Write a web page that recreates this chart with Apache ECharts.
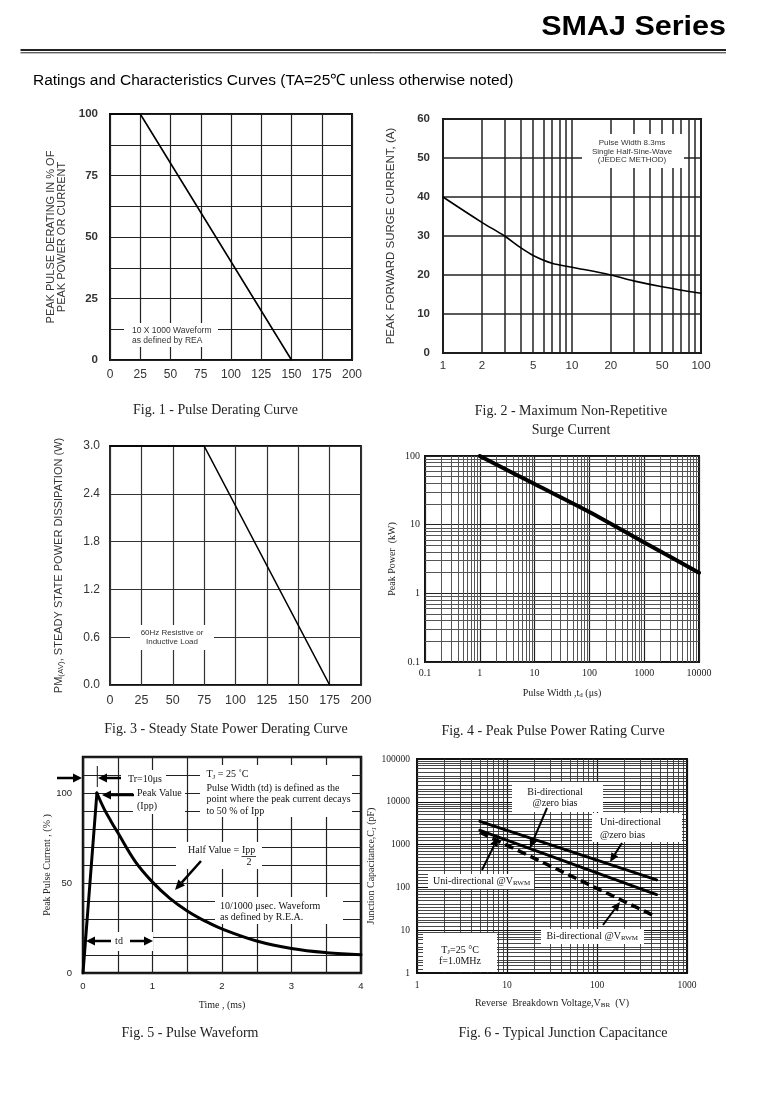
<!DOCTYPE html>
<html><head><meta charset="utf-8">
<script src="https://cdn.jsdelivr.net/npm/echarts@6/dist/echarts.min.js"></script>
<style>html,body{margin:0;padding:0;background:#fff}#c{width:780px;height:1107px}</style>
</head><body><div id="c"></div>
<script>
// ---------- data ----------
// Fig. 1 - Pulse Derating Curve
const fig1Temp = [0, 25, 150];
const fig1Derating = [100, 100, 0];
// Fig. 2 - Maximum Non-Repetitive Surge Current
const fig2Cycles = [1, 2, 3, 4, 5, 7, 10, 20, 30, 50, 100];
const fig2Current = [40, 33.5, 30, 27, 25, 23, 22, 20, 18.5, 17, 15.3];
const fig2XLabels = [1, 2, 5, 10, 20, 50, 100];
// Fig. 3 - Steady State Power Derating Curve
const fig3Temp = [0, 75, 175];
const fig3Power = [3.0, 3.0, 0];
// Fig. 4 - Peak Pulse Power Rating Curve
const fig4Width = [1, 10, 100, 1000, 10000];
const fig4Power = [100, 39, 15.3, 5.5, 2];
// Fig. 5 - Pulse Waveform
const fig5Time = [0, 0.2, 0.3, 0.4, 0.5, 0.75, 1, 1.25, 1.5, 1.75, 2, 2.5, 3, 3.5, 4];
const fig5Current = [0, 100, 91.5, 84.5, 78, 62, 50.5, 41.5, 34.5, 29, 24.5, 17.8, 13.6, 11.3, 10.2];
// Fig. 6 - Typical Junction Capacitance
const fig6VbrUniZero = [5, 460];
const fig6CapUniZero = [3500, 150];
const fig6VbrBiZero = [5, 460];
const fig6CapBiZero = [2150, 68];
const fig6VbrBiVrwm = [5, 425];
const fig6CapBiVrwm = [1950, 22];

// ---------- helpers ----------
const SANS = '"Liberation Sans", Arial, Helvetica, sans-serif';
const SERIF = '"Liberation Serif", "Times New Roman", Times, serif';
function pairs(xs, ys) { return xs.map((x, i) => [x, ys[i]]); }
function fmt(v) { return String(+Number(v).toPrecision(6)); }
function logMinors(from, to, mults) {
  const out = [];
  for (let d = from; d < to * 0.999; d = +(d * 10).toPrecision(6)) {
    mults.forEach(m => { const v = +(d * m).toPrecision(6); if (v < to) out.push(v); });
  }
  return out;
}
function gridSeries(idx, xs, ys, color, width) {
  return {
    type: 'line', xAxisIndex: idx, yAxisIndex: idx, data: [], silent: true, z: 1, animation: false,
    markLine: {
      silent: true, z: 1, zlevel: 0, symbol: ['none', 'none'], animation: false, label: { show: false },
      emphasis: { disabled: true },
      lineStyle: { color: color, width: width, type: 'solid' },
      data: xs.map(v => ({ xAxis: v })).concat(ys.map(v => ({ yAxis: v })))
    }
  };
}
function lineSeries(idx, data, width, extra) {
  return Object.assign({
    type: 'line', xAxisIndex: idx, yAxisIndex: idx, data: data,
    symbol: 'none', showSymbol: false, silent: true, animation: false, z: 5,
    lineStyle: { color: '#000', width: width, cap: 'round', join: 'round' }
  }, extra || {});
}
const G = [];
function rect(x, y, w, h) { G.push({ type: 'rect', z: 3, silent: true, shape: { x: x, y: y, width: w, height: h }, style: { fill: '#fff' } }); }
function txt(x, y, text, size, family, opts) {
  opts = opts || {};
  const st = {
    text: text, x: 0, y: 0, fontSize: size, fontFamily: family, fontWeight: opts.weight || 'normal',
    fill: opts.color || '#111', align: opts.align || 'left', verticalAlign: 'middle', lineHeight: opts.lh || size + 2
  };
  if (opts.rich) st.rich = opts.rich;
  G.push({ type: 'text', z: 6, silent: true, x: x, y: y, scaleX: opts.scaleX || 1, style: st });
}
function seg(x1, y1, x2, y2, w, color) {
  G.push({ type: 'line', z: 6, silent: true, shape: { x1: x1, y1: y1, x2: x2, y2: y2 }, style: { stroke: color || '#000', lineWidth: w } });
}
function arrow(x1, y1, x2, y2, w, hl, hw) {
  const a = Math.atan2(y2 - y1, x2 - x1);
  const bx = x2 - hl * Math.cos(a), by = y2 - hl * Math.sin(a);
  const px = -Math.sin(a), py = Math.cos(a);
  seg(x1, y1, bx, by, w);
  G.push({ type: 'polygon', z: 6, silent: true, shape: { points: [[x2, y2], [bx + px * hw, by + py * hw], [bx - px * hw, by - py * hw]] }, style: { fill: '#000' } });
}
const subSerif = { s: { fontSize: 7, fontFamily: SERIF, lineHeight: 6, verticalAlign: 'bottom', fill: '#111', color: '#111' } };
const subSans = { s: { fontSize: 8, fontFamily: SANS, lineHeight: 7, verticalAlign: 'bottom', color: '#333' } };

// ---------- page text ----------
txt(726, 27.5, 'SMAJ Series', 27, SANS, { weight: 'bold', align: 'right', color: '#000', scaleX: 1.13 });
seg(20.5, 50, 726, 50, 2.2, '#222');
seg(20.5, 52.8, 726, 52.8, 1, '#222');
txt(33, 81, 'Ratings and Characteristics Curves (TA=25\u2103 unless otherwise noted)', 15.5, SANS, { color: '#000' });

const capOpts = { align: 'center', color: '#222' };
txt(215.5, 410, 'Fig. 1 - Pulse Derating Curve', 14, SERIF, capOpts);
txt(571, 411.5, 'Fig. 2 - Maximum Non-Repetitive', 14, SERIF, capOpts);
txt(571, 430, 'Surge Current', 14, SERIF, capOpts);
txt(226, 729, 'Fig. 3 - Steady State Power Derating Curve', 14, SERIF, capOpts);
txt(553, 731.5, 'Fig. 4 - Peak Pulse Power Rating Curve', 14, SERIF, capOpts);
txt(190, 1033, 'Fig. 5 - Pulse Waveform', 14, SERIF, capOpts);
txt(563, 1033, 'Fig. 6 - Typical Junction Capacitance', 14, SERIF, capOpts);

// Fig 1 note
rect(124, 323, 94, 24);
txt(132, 331, '10 X 1000 Waveform', 8.5, SANS, { color: '#333' });
txt(132, 340.5, 'as defined by REA', 8.5, SANS, { color: '#333' });
// Fig 2 note
rect(582, 134, 102, 34);
txt(632, 143, 'Pulse Width 8.3ms', 8, SANS, { align: 'center', color: '#333' });
txt(632, 151.5, 'Single Half-Sine-Wave', 8, SANS, { align: 'center', color: '#333' });
txt(632, 160, '(JEDEC METHOD)', 8, SANS, { align: 'center', color: '#333' });
// Fig 3 note
rect(130, 625, 84, 25);
txt(172, 633, '60Hz Resistive or', 8, SANS, { align: 'center', color: '#333' });
txt(172, 642, 'Inductive Load', 8, SANS, { align: 'center', color: '#333' });

// Fig 5 notes
rect(121, 770, 45, 16);
rect(133, 786, 52, 28);
rect(200, 765, 152, 52);
rect(176, 842, 86, 27);
rect(215, 897, 128, 27);
rect(85, 932, 68, 19);
txt(128, 779, 'Tr=10\u03bcs', 10, SERIF);
txt(137, 793.5, 'Peak Value', 10, SERIF);
txt(137, 806.5, '(Ipp)', 10, SERIF);
txt(206.5, 774.5, 'T{s|J} = 25 \u02daC', 10, SERIF, { rich: subSerif, lh: 12 });
txt(206.5, 788, 'Pulse Width (td) is defined as the', 10, SERIF);
txt(206.5, 799.5, 'point where the peak current decays', 10, SERIF);
txt(206.5, 811, 'to 50 % of Ipp', 10, SERIF);
txt(188, 850.5, 'Half Value = ', 10, SERIF);
txt(242, 850.5, 'Ipp', 10, SERIF);
seg(241.5, 856.5, 256, 856.5, 0.8, '#111');
txt(249, 862.5, '2', 10, SERIF, { align: 'center' });
txt(220, 906, '10/1000 \u03bcsec. Waveform', 10, SERIF);
txt(220, 917.5, 'as defined by R.E.A.', 10, SERIF);
txt(119, 941.5, 'td', 10, SERIF, { align: 'center' });
arrow(57, 778, 82, 778, 2.5, 9, 4.5);
arrow(121, 778, 98, 778, 2.5, 9, 4.5);
seg(97.3, 766, 97.3, 787, 1, '#111');
arrow(134, 795, 102, 795, 2.5, 9, 4.5);
arrow(201, 861, 175, 890, 2.5, 10, 4.5);
arrow(111, 941, 86, 941, 2.5, 9, 4.5);
arrow(130, 941, 153, 941, 2.5, 9, 4.5);

// Fig 6 notes
rect(512, 782, 91, 30);
rect(592, 813, 90, 29);
rect(428, 874, 106, 15);
rect(541, 929, 103, 15);
rect(423, 933, 74, 39);
txt(555, 792, 'Bi-directional', 10, SERIF, { align: 'center' });
txt(555, 803.5, '@zero bias', 10, SERIF, { align: 'center' });
txt(600, 822, 'Uni-directional', 10, SERIF);
txt(600, 835, '@zero bias', 10, SERIF);
txt(433, 881, 'Uni-directional @V{s|RWM}', 10, SERIF, { rich: subSerif, lh: 12 });
txt(546.5, 936, 'Bi-directional @V{s|RWM}', 10, SERIF, { rich: subSerif, lh: 12 });
txt(460, 950, 'T{s|J}=25 \u00b0C', 10, SERIF, { align: 'center', rich: subSerif, lh: 12 });
txt(460, 961, 'f=1.0MHz', 10, SERIF, { align: 'center' });
arrow(547, 808, 530, 848, 2, 9, 4);
arrow(622, 843, 610, 862, 2, 9, 4);
arrow(482, 870, 498, 837.5, 2, 9, 4);
arrow(603, 925, 620, 902, 2, 9, 4);

// ---------- grids & axes ----------
const grids = [
  { left: 110, top: 114, width: 242, height: 246, borderWidth: 2 },
  { left: 443, top: 119, width: 258, height: 234, borderWidth: 2 },
  { left: 110, top: 446, width: 251, height: 239, borderWidth: 1.8 },
  { left: 425, top: 456, width: 274, height: 206, borderWidth: 2 },
  { left: 83, top: 757, width: 278, height: 216, borderWidth: 2.5 },
  { left: 417, top: 759, width: 270, height: 214, borderWidth: 2 }
].map(g => Object.assign({ show: true, borderColor: '#111', backgroundColor: 'transparent', containLabel: false, outerBoundsMode: 'none' }, g));

function lbl(size, family, margin, extra) {
  return Object.assign({ show: true, fontSize: size, fontFamily: family, color: '#222', margin: margin, showMinLabel: true, showMaxLabel: true, hideOverlap: false }, extra || {});
}
function split(color, width) { return { show: true, lineStyle: { color: color, width: width, type: 'solid' } }; }
const noLine = { show: false };
const base = { axisLine: noLine, axisTick: { show: false }, minorTick: { show: false } };

const xAxes = [
  Object.assign({}, base, { gridIndex: 0, type: 'value', min: 0, max: 200, interval: 25,
    axisLabel: lbl(12, SANS, 9, { color: '#333' }), splitLine: split('#222', 1.2) }),
  Object.assign({}, base, { gridIndex: 1, type: 'log', logBase: 10, min: 1, max: 100,
    axisLabel: lbl(11.5, SANS, 7, { color: '#333', customValues: fig2XLabels, formatter: fmt }), splitLine: split('#222', 1.5) }),
  Object.assign({}, base, { gridIndex: 2, type: 'value', min: 0, max: 200, interval: 25,
    axisLabel: lbl(12.5, SANS, 9, { color: '#333' }), splitLine: split('#333', 1.2) }),
  Object.assign({}, base, { gridIndex: 3, type: 'log', logBase: 10, min: 0.1, max: 10000,
    axisLabel: lbl(10, SERIF, 6, { formatter: fmt }), splitLine: split('#222', 1.2),
    name: 'Pulse Width ,t{s|d} (\u03bcs)', nameLocation: 'middle', nameGap: 25,
    nameTextStyle: { fontSize: 10, fontFamily: SERIF, color: '#222', lineHeight: 12, rich: subSerif } }),
  Object.assign({}, base, { gridIndex: 4, type: 'value', min: 0, max: 4, interval: 0.5,
    axisLabel: lbl(9.5, SANS, 8, { formatter: v => (Math.abs(v - Math.round(v)) < 1e-9 ? String(Math.round(v)) : '') }),
    splitLine: split('#222', 1.2),
    name: 'Time , (ms)', nameLocation: 'middle', nameGap: 27,
    nameTextStyle: { fontSize: 10, fontFamily: SERIF, color: '#222' } }),
  Object.assign({}, base, { gridIndex: 5, type: 'log', logBase: 10, min: 1, max: 1000,
    axisLabel: lbl(9.5, SERIF, 7, { formatter: fmt }), splitLine: split('#111', 1.2),
    name: 'Reverse  Breakdown Voltage,V{s|BR}  (V)', nameLocation: 'middle', nameGap: 24,
    nameTextStyle: { fontSize: 10, fontFamily: SERIF, color: '#222', lineHeight: 12, rich: subSerif } })
];
const yAxes = [
  Object.assign({}, base, { gridIndex: 0, type: 'value', min: 0, max: 100, interval: 12.5,
    axisLabel: lbl(11.5, SANS, 12, { fontWeight: 'bold', color: '#333', formatter: v => (v % 25 === 0 ? String(v) : '') }),
    splitLine: split('#222', 1.2),
    name: 'PEAK PULSE DERATING IN % OF\nPEAK POWER OR CURRENT', nameLocation: 'middle', nameGap: 43,
    nameTextStyle: { fontSize: 11, fontFamily: SANS, color: '#333', lineHeight: 11 } }),
  Object.assign({}, base, { gridIndex: 1, type: 'value', min: 0, max: 60, interval: 10,
    axisLabel: lbl(11.5, SANS, 13, { fontWeight: 'bold', color: '#333' }),
    splitLine: split('#222', 1.5),
    name: 'PEAK FORWARD SURGE CURRENT, (A)', nameLocation: 'middle', nameGap: 46,
    nameTextStyle: { fontSize: 11.5, fontFamily: SANS, color: '#333' } }),
  Object.assign({}, base, { gridIndex: 2, type: 'value', min: 0, max: 3, interval: 0.6,
    axisLabel: lbl(12, SANS, 10, { color: '#333', formatter: v => Number(v).toFixed(1) }),
    splitLine: split('#333', 1.2),
    name: 'PM{s|(AV)}, STEADY STATE POWER DISSIPATION (W)', nameLocation: 'middle', nameGap: 45,
    nameTextStyle: { fontSize: 11, fontFamily: SANS, color: '#333', lineHeight: 13, rich: subSans } }),
  Object.assign({}, base, { gridIndex: 3, type: 'log', logBase: 10, min: 0.1, max: 100,
    axisLabel: lbl(10, SERIF, 5, { formatter: fmt }), splitLine: split('#222', 1.2),
    name: 'Peak Power  (kW)', nameLocation: 'middle', nameGap: 28,
    nameTextStyle: { fontSize: 10, fontFamily: SERIF, color: '#222' } }),
  Object.assign({}, base, { gridIndex: 4, type: 'value', min: 0, max: 120, interval: 10,
    axisLabel: lbl(9.5, SANS, 11, { formatter: v => (v % 50 === 0 ? String(v) : '') }),
    splitLine: split('#222', 1.2),
    name: 'Peak Pulse Current , (% )', nameLocation: 'middle', nameGap: 22,
    nameTextStyle: { fontSize: 10, fontFamily: SERIF, color: '#222' } }),
  Object.assign({}, base, { gridIndex: 5, type: 'log', logBase: 10, min: 1, max: 100000,
    axisLabel: lbl(9.5, SERIF, 7, { formatter: fmt }), splitLine: split('#111', 1.2),
    name: 'Junction Capacitance,C{s|J} (pF)', nameLocation: 'middle', nameGap: 31,
    nameTextStyle: { fontSize: 10, fontFamily: SERIF, color: '#222', lineHeight: 12, rich: subSerif } })
];

// minor gridlines on log axes
const fig2Minor = logMinors(1, 100, [2, 3, 4, 5, 6, 7, 8, 9]);
const fig4MinorX = logMinors(0.1, 10000, [2, 3, 4, 5, 6, 7, 8, 9]);
const fig4MinorY = logMinors(0.1, 100, [2, 3, 4, 5, 6, 7, 8, 9]);
const fig6MinorX = logMinors(1, 1000, [2, 3, 4, 5, 6, 7, 8, 9]);
const fig6MinorY = logMinors(1, 100000, [1.25, 1.5, 1.75, 2, 2.5, 3, 3.5, 4, 5, 6, 7, 8, 9]);

// Fig 5: straight rise to the peak, smooth decay after it
const fig5Pts = pairs(fig5Time, fig5Current);
const fig5Rise = fig5Pts.slice(0, 2);
const fig5Decay = fig5Pts.slice(1);

const series = [
  gridSeries(1, fig2Minor, [], '#222', 1.5),
  gridSeries(3, fig4MinorX, fig4MinorY, '#555', 1),
  gridSeries(5, fig6MinorX, fig6MinorY, '#333', 0.9),
  lineSeries(0, pairs(fig1Temp, fig1Derating), 1.6),
  lineSeries(1, pairs(fig2Cycles, fig2Current), 1.6, { smooth: 0.35 }),
  lineSeries(2, pairs(fig3Temp, fig3Power), 1.6),
  lineSeries(3, pairs(fig4Width, fig4Power), 4, { smooth: 0.3 }),
  lineSeries(4, fig5Rise, 3),
  lineSeries(4, fig5Decay, 3, { smooth: 0.4 }),
  lineSeries(5, pairs(fig6VbrUniZero, fig6CapUniZero), 3),
  lineSeries(5, pairs(fig6VbrBiZero, fig6CapBiZero), 3),
  lineSeries(5, pairs(fig6VbrBiVrwm, fig6CapBiVrwm), 3.5, { lineStyle: { color: '#000', width: 3.5, type: [9, 5] } })
];

const chart = echarts.init(document.getElementById('c'), null, { renderer: 'canvas' });
chart.setOption({
  backgroundColor: '#fff',
  animation: false,
  grid: grids,
  xAxis: xAxes,
  yAxis: yAxes,
  series: series,
  graphic: { elements: G }
});
</script>
</body></html>
